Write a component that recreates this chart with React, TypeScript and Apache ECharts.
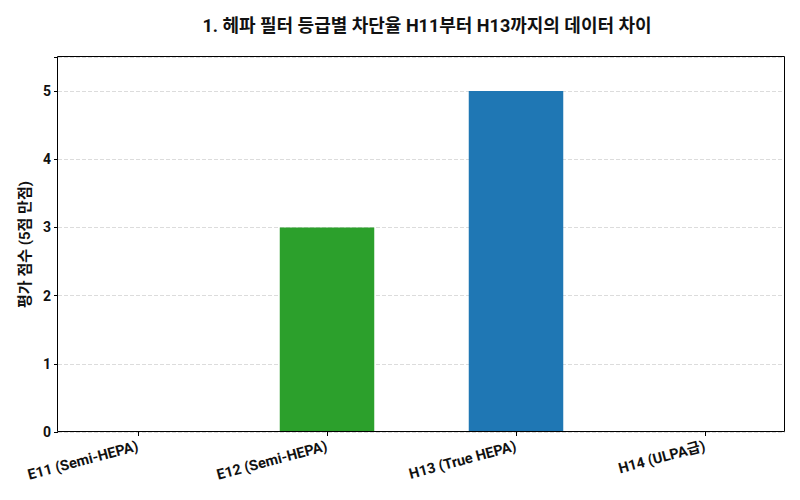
import React, { useEffect, useRef } from 'react'
import * as echarts from 'echarts'

const categories = ['E11 (Semi-HEPA)', 'E12 (Semi-HEPA)', 'H13 (True HEPA)', 'H14 (ULPA급)']
const scores = [0, 3, 5, 0]
const barColors = ['#ff7f0e', '#2ca02c', '#1f77b4', '#d62728']
const yTicks = [0, 1, 2, 3, 4, 5]

const FONT = "Roboto, 'Noto Sans CJK KR', sans-serif"

const App: React.FC = () => {
    const chartRef = useRef<HTMLDivElement | null>(null)

    useEffect(() => {
        if (!chartRef.current) return
        const chart = echarts.init(chartRef.current, undefined, { renderer: 'svg' })

        // 플롯 박스 (matplotlib 스타일 테두리)
        const boxLeft = 58
        const boxTop = 57
        const boxRight = 15
        const boxBottom = 68

        chart.setOption({
            animation: false,
            backgroundColor: '#fff',
            textStyle: { fontFamily: FONT },
            title: {
                text: '1. 헤파 필터 등급별 차단율 H11부터 H13까지의 데이터 차이',
                left: 422,
                top: 11,
                textAlign: 'center',
                textStyle: { fontFamily: FONT, fontSize: 18, fontWeight: 'bold', color: '#111' },
            },
            grid: [
                // 막대용: 카테고리 폭을 matplotlib 여백에 맞춤
                { left: 43.5, right: 0.5, top: boxTop, bottom: boxBottom },
                // y축/격자선용
                { left: boxLeft, right: boxRight, top: boxTop, bottom: boxBottom },
            ],
            xAxis: [
                {
                    type: 'category',
                    gridIndex: 0,
                    data: categories,
                    axisLine: { show: false },
                    axisTick: { show: true, alignWithLabel: true, length: 4, lineStyle: { color: '#000' } },
                    axisLabel: {
                        rotate: 15,
                        margin: 14,
                        fontSize: 14.5,
                        fontWeight: 'bold',
                        color: '#111',
                        fontFamily: FONT,
                        interval: 0,
                    },
                },
                { type: 'value', gridIndex: 1, show: false, min: 0, max: 1 },
            ],
            yAxis: [
                { type: 'value', gridIndex: 0, show: false, min: 0, max: 5.5 },
                {
                    type: 'value',
                    gridIndex: 1,
                    min: 0,
                    max: 5.5,
                    interval: 1,
                    name: '평가 점수 (5점 만점)',
                    nameLocation: 'middle',
                    nameGap: 22,
                    nameTextStyle: { fontFamily: FONT, fontSize: 15, fontWeight: 'bold', color: '#111' },
                    axisLine: { show: false },
                    axisTick: { show: true, length: 4, lineStyle: { color: '#000' } },
                    axisLabel: {
                        fontSize: 14,
                        fontWeight: 'bold',
                        color: '#111',
                        fontFamily: FONT,
                        margin: 7,
                        formatter: (v: number) => (yTicks.includes(v) ? String(v) : ''),
                    },
                    splitLine: { show: true, lineStyle: { type: 'dashed', color: '#dcdcdc', width: 1 } },
                },
            ],
            series: [
                {
                    type: 'bar',
                    xAxisIndex: 0,
                    yAxisIndex: 0,
                    barWidth: '50%',
                    data: scores.map((v, i) => ({ value: v, itemStyle: { color: barColors[i] } })),
                },
            ],
            graphic: [
                {
                    type: 'rect',
                    shape: {
                        x: boxLeft - 0.5,
                        y: boxTop - 0.5,
                        width: 800 - boxLeft - boxRight,
                        height: 500 - boxTop - boxBottom,
                    },
                    style: { fill: 'none', stroke: '#000', lineWidth: 1 },
                    z: 100,
                    silent: true,
                },
            ],
        })

        return () => {
            chart.dispose()
        }
    }, [])

    return <div ref={chartRef} style={{ width: 800, height: 500, margin: -8 }} />
}

export default App
